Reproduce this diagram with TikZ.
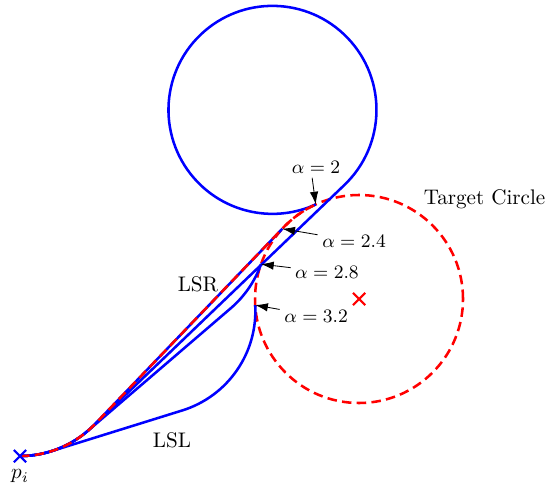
\documentclass[tikz,border=0pt]{standalone}
\usetikzlibrary{arrows.meta,shapes.misc}
\begin{document}
\begin{tikzpicture}[x=1.731cm,y=1.731cm,
 dub/.style={blue,line width=1.2pt},
 lsr/.style={red,line width=1.2pt,dash pattern=on 4.5pt off 2.5pt},
 xcross/.style={cross out,draw,line width=1pt,minimum size=4.8pt,inner sep=0pt},
 lbl/.style={font=\small,inner sep=2pt},
 arr/.style={-{Latex[length=6pt,width=4pt]},black}]
\useasboundingbox (-3.452,-1.808) rectangle (1.817,2.875);
\coordinate (p) at (-3.26,-1.51);
\coordinate (c) at (0,0);
% target circle
\draw[lsr] (c) circle[radius=1];
% LSL paths for each alpha
\foreach \a in {2,2.4,2.8,3.2}{
 \pgfmathsetmacro\ad{\a*180/pi}
 \pgfmathsetmacro\dx{2*cos(\ad)+3.26}
 \pgfmathsetmacro\dy{2*sin(\ad)+0.51}
 \pgfmathsetmacro\ph{atan2(\dy,\dx)}
 \pgfmathsetmacro\len{veclen(\dx,\dy)}
 \pgfmathsetmacro\ea{\ad-180+(\ad-180<\ph-90)*360}
 \draw[dub] (p) arc[start angle=-90,end angle=\ph-90,radius=1] -- ++(\ph:\len)
  arc[start angle=\ph-90,end angle=\ea,radius=1];
}
% LSR path, alpha=2
\pgfmathsetmacro\pr{atan2(0.51,3.26)+asin(2/veclen(3.26,0.51))}
\pgfmathsetmacro\pl{sqrt(3.26^2+0.51^2-4)}
\draw[lsr] (p) arc[start angle=-90,end angle=\pr-90,radius=1] -- ++(\pr:\pl)
 arc[start angle=\pr+90,end angle={2*180/pi},radius=1];
\node[xcross,red] (t) at (c) {};
\node[xcross,blue] (pi) at (p) {};
\node[below=3pt] at (p) {$p_i$};
\foreach \a/\n in {2/a2,2.4/a24,2.8/a28,3.2/a32}{\coordinate (\n) at ({\a*180/pi}:1);}
\node[lbl] (l2) at (-0.413,1.269) {$\alpha=2$};
\node[lbl] (l24) at (-0.048,0.558) {$\alpha=2.4$};
\node[lbl] (l28) at (-0.308,0.260) {$\alpha=2.8$};
\node[lbl] (l32) at (-0.413,-0.163) {$\alpha=3.2$};
\draw[arr] (l2.250)--(a2);
\foreach \x/\y in {l24/a24,l28/a28,l32/a32}{\draw[arr](\x)--(\y);}
\node (tc) at (1.207,0.962) {Target Circle};
\node (lr) at (-1.548,0.144) {LSR};
\node (ll) at (-1.798,-1.356) {LSL};
\end{tikzpicture}
\end{document}
